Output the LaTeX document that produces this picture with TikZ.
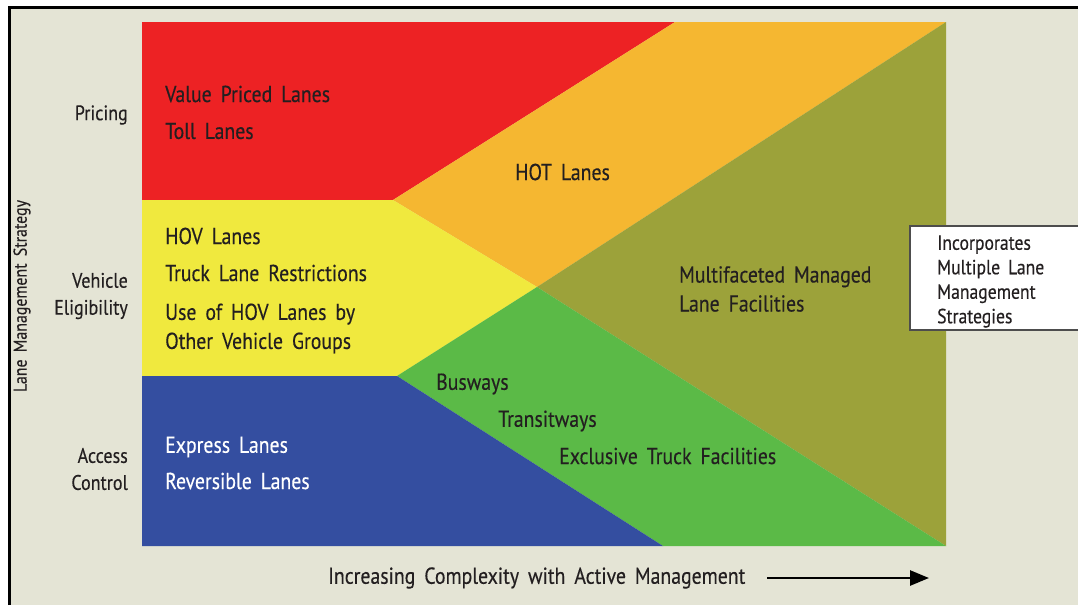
\documentclass[tikz,border=0pt]{standalone}
\usepackage{fontspec}
\setmainfont{PT Sans}[FakeStretch=0.86,WordSpace=1.7,FakeBold=0.3]
\usetikzlibrary{arrows.meta}
\definecolor{bgc}{HTML}{E4E4D5}
\definecolor{cred}{HTML}{ED2224}
\definecolor{corange}{HTML}{F5B731}
\definecolor{colive}{HTML}{9CA23A}
\definecolor{cyellow}{HTML}{F0E93E}
\definecolor{cgreen}{HTML}{5BBA47}
\definecolor{cblue}{HTML}{344EA0}
\definecolor{ctext}{HTML}{231F20}
\definecolor{cbox}{HTML}{4D4D4D}
\tikzset{
  lbl/.style={inner sep=0pt, text=ctext, font=\fontsize{23}{29}\selectfont, align=left, anchor=west},
  side/.style={inner sep=0pt, text=ctext, font=\fontsize{21}{27}\selectfont, align=right, anchor=east},
  wlbl/.style={lbl, text=white},
}
\begin{document}
\begin{tikzpicture}[x=1pt,y=-1pt]
\useasboundingbox (0,0) rectangle (1078,605);
\fill[white] (0,0) rectangle (1078,605);
\fill[bgc] (9.5,7.5) rectangle (1078,605);
\draw[line width=3pt] (9.5,605) -- (9.5,7.5) -- (1078,7.5);
% region corners
\coordinate (TL) at (142,22);
\coordinate (TM) at (675,22);
\coordinate (TR) at (946,22);
\coordinate (BL) at (142,546);
\coordinate (BM) at (663,546);
\coordinate (BR) at (946,546);
\coordinate (LRY) at (142,200);
\coordinate (LYB) at (142,376);
\coordinate (P1) at (393,200);
\coordinate (P2) at (537,287);
\coordinate (P3) at (397,376);
\fill[cred] (TL) -- (TM) -- (P1) -- (LRY) -- cycle;
\fill[corange] (TM) -- (TR) -- (P2) -- (P1) -- cycle;
\fill[colive] (TR) -- (BR) -- (P2) -- cycle;
\fill[cyellow] (LRY) -- (P1) -- (P2) -- (P3) -- (LYB) -- cycle;
\fill[cgreen] (P2) -- (BR) -- (BM) -- (P3) -- cycle;
\fill[cblue] (LYB) -- (P3) -- (BM) -- (BL) -- cycle;
% side labels
\node[side] (pricing) at (128,115) {Pricing};
\node[side] (vehicle) at (128,296) {Vehicle\\Eligibility};
\node[side] (access) at (128,469) {Access\\Control};
\node[inner sep=0pt, text=ctext, font=\fontsize{18.5}{23}\selectfont, rotate=90] (axisy) at (22,296) {Lane Management Strategy};
% red
\node[lbl] (vpl) at (165,94) {Value Priced Lanes};
\node[lbl] (toll) at (165,131) {Toll Lanes};
% yellow
\node[lbl] (hov) at (165,236) {HOV Lanes};
\node[lbl] (truck) at (165,273) {Truck Lane Restrictions};
\node[lbl] (usehov) at (165,328.5) {Use of HOV Lanes by\\Other Vehicle Groups};
% blue
\node[wlbl] (express) at (165,447) {Express Lanes};
\node[wlbl] (reversible) at (165,481) {Reversible Lanes};
% orange
\node[lbl] (hot) at (515,172) {HOT Lanes};
% olive
\node[lbl] (multi) at (679,289) {Multifaceted Managed\\Lane Facilities};
% green
\node[lbl] (bus) at (436,384) {Busways};
\node[lbl] (transit) at (498,421) {Transitways};
\node[lbl] (etf) at (559,456) {Exclusive Truck Facilities};
% box
\fill[white] (910,226) rectangle (1078,330);
\draw[cbox, line width=1.5pt] (1078,226) -- (910,226) -- (910,330) -- (1078,330);
\node[inner sep=0pt, text=ctext, font=\fontsize{20.5}{24.5}\selectfont, align=left, anchor=west] (inc) at (937,281.5) {Incorporates\\Multiple Lane\\Management\\Strategies};
% bottom axis
\node[inner sep=0pt, text=ctext, font=\fontsize{23}{28}\selectfont, anchor=west] (axisx) at (328,578) {Increasing Complexity with Active Management};
\coordinate (arrS) at (767,578);
\coordinate (arrE) at (929,578);
\draw[line width=2.6pt, -{Triangle[length=19pt,width=15pt]}] (arrS) -- (arrE);
\end{tikzpicture}
\end{document}
